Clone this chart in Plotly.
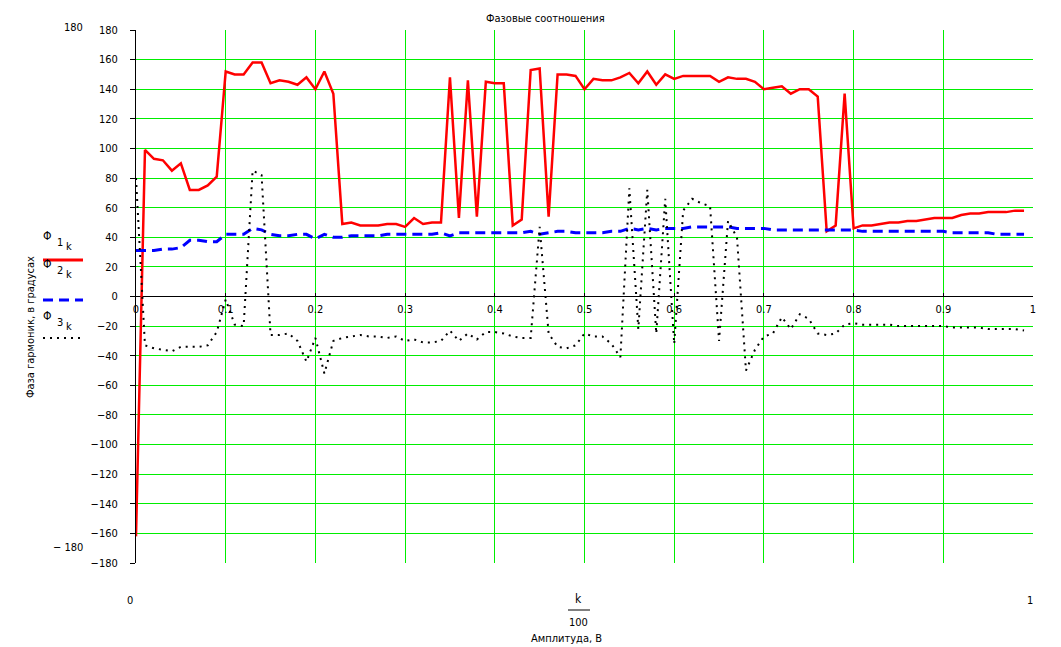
import plotly.graph_objects as go

# x = k/100, k = 0..99
k_index = list(range(100))

phi1 = [-162, 99, 93, 92, 85, 90, 72, 72, 75, 81,
        152, 150, 150, 158, 158, 144, 146, 145, 143, 148,
        140, 152, 137, 49, 50, 48, 48, 48, 49, 49,
        47, 53, 49, 50, 50, 148, 53, 146, 54, 145,
        144, 144, 48, 52, 153, 154, 54, 150, 150, 149,
        140, 147, 146, 146, 148, 151, 144, 152, 143, 150,
        147, 149, 149, 149, 149, 145, 148, 147, 147, 145,
        140, 141, 142, 137, 140, 140, 135, 44, 48, 137,
        46, 48, 48, 49, 50, 50, 51, 51, 52, 53,
        53, 53, 55, 56, 56, 57, 57, 57, 58, 58]

phi2 = [31, 31, 31, 32, 32, 33, 38, 38, 37, 37,
        42, 42, 42, 46, 45, 42, 41, 41, 42, 42,
        39, 42, 40, 40, 41, 41, 41, 41, 42, 42,
        42, 42, 42, 42, 43, 41, 43, 43, 43, 43,
        43, 43, 43, 43, 44, 42, 43, 44, 44, 43,
        43, 43, 43, 44, 44, 46, 45, 46, 45, 46,
        46, 46, 47, 47, 47, 47, 47, 46, 46, 46,
        46, 45, 45, 45, 45, 45, 45, 45, 45, 45,
        45, 44, 44, 44, 44, 44, 44, 44, 44, 44,
        44, 43, 43, 43, 43, 43, 42, 42, 42, 42]

phi3 = [80, -33, -35, -36, -37, -34, -34, -34, -33, -24,
        -2, -19, -20, 85, 82, -26, -26, -25, -30, -44,
        -28, -52, -30, -28, -27, -26, -27, -27, -28, -27,
        -30, -29, -31, -31, -30, -23, -30, -25, -29, -24,
        -24, -25, -27, -28, -28, 47, -25, -34, -35, -33,
        -25, -27, -27, -32, -41, 73, -22, 72, -25, 66,
        -32, 58, 66, 63, 61, -30, 51, 40, -50, -36,
        -27, -25, -14, -22, -12, -15, -25, -26, -25, -19,
        -18, -19, -19, -19, -19, -20, -20, -20, -20, -20,
        -20, -21, -21, -21, -21, -22, -22, -22, -22, -23]

x_vals = [k / 100 for k in k_index]

FONT = "Liberation Sans Narrow, DejaVu Sans Condensed, Arial Narrow, Liberation Sans, sans-serif"
GRID = "#00ee00"

# page body has an 8px margin, so the figure is a bit smaller than the window
OFF = 8
W, H = 1061 - OFF, 647 - OFF
# plot area on screen: x 136..1033, y 30..563
X0, X1, Y0, Y1 = 136, 1033, 30, 563
L, T = X0 - OFF, Y0 - OFF
R, B = W + OFF - X1, H + OFF - Y1


def px(xp):
    return (xp - X0) / (X1 - X0)


def py(yp):
    return (Y1 - yp) / (Y1 - Y0)


fig = go.Figure()
fig.add_trace(go.Scatter(x=x_vals, y=phi1, mode="lines", line=dict(color="#ff0000", width=2.5)))
fig.add_trace(go.Scatter(x=x_vals, y=phi2, mode="lines", line=dict(color="#0000ff", width=3, dash="10px,6px")))
fig.add_trace(go.Scatter(x=x_vals, y=phi3, mode="lines", line=dict(color="#000000", width=2, dash="2px,5px")))


def text(s, x, y, size=11, **kw):
    fig.add_annotation(text=s, x=px(x), y=py(y), xref="paper", yref="paper",
                       xanchor="center", yanchor="middle", showarrow=False,
                       font=dict(family=FONT, size=size, color="black"), **kw)


text("Фазовые соотношения", 545, 18)
text("180", 73, 27)
text("\u2212 180", 68, 547)
text("0", 130, 600)
text("1", 1030, 600)
text("k", 578, 599, size=12)
text("100", 578, 622)
text("Амплитуда, В", 566, 638)
text("Фаза гармоник, в градусах", 30, 327, textangle=-90)

# legend
entries = [("1", "#ff0000", dict(width=3), 236, 260),
           ("2", "#0000ff", dict(width=3, dash="10px,6px"), 264, 300),
           ("3", "#000000", dict(width=2, dash="2px,5px"), 316, 338)]
for num, col, ln, ty, ly in entries:
    text("\u03a6", 47, ty, size=12)
    text(num, 60, ty + 6)
    text("k", 69, ty + 10)
    fig.add_shape(type="line", xref="paper", yref="paper", x0=px(43), x1=px(83),
                  y0=py(ly), y1=py(ly), line=dict(color=col, **ln))

fig.add_shape(type="line", xref="paper", yref="paper", x0=px(568), x1=px(590),
              y0=py(610), y1=py(610), line=dict(color="black", width=1))

fig.update_layout(
    width=W, height=H,
    margin=dict(l=L, r=R, t=T, b=B),
    paper_bgcolor="white", plot_bgcolor="white",
    showlegend=False,
    font=dict(family=FONT, size=11, color="black"),
    xaxis=dict(range=[0, 1], dtick=0.1, showgrid=True, gridcolor=GRID, gridwidth=1,
               anchor="free", position=0.5, showline=False,
               ticks="inside", ticklen=4, tickcolor="black", zeroline=False,
               ticklabelstandoff=4, tickfont=dict(family=FONT, size=11)),
    yaxis=dict(range=[-180, 180], dtick=20, showgrid=True, gridcolor=GRID, gridwidth=1,
               showline=True, linecolor="black", linewidth=1, ticks="outside", ticklen=5,
               tickcolor="black", zeroline=True, zerolinecolor="black", zerolinewidth=1,
               ticklabelstandoff=10, tickfont=dict(family=FONT, size=11)),
)

fig.write_html("out.html")
